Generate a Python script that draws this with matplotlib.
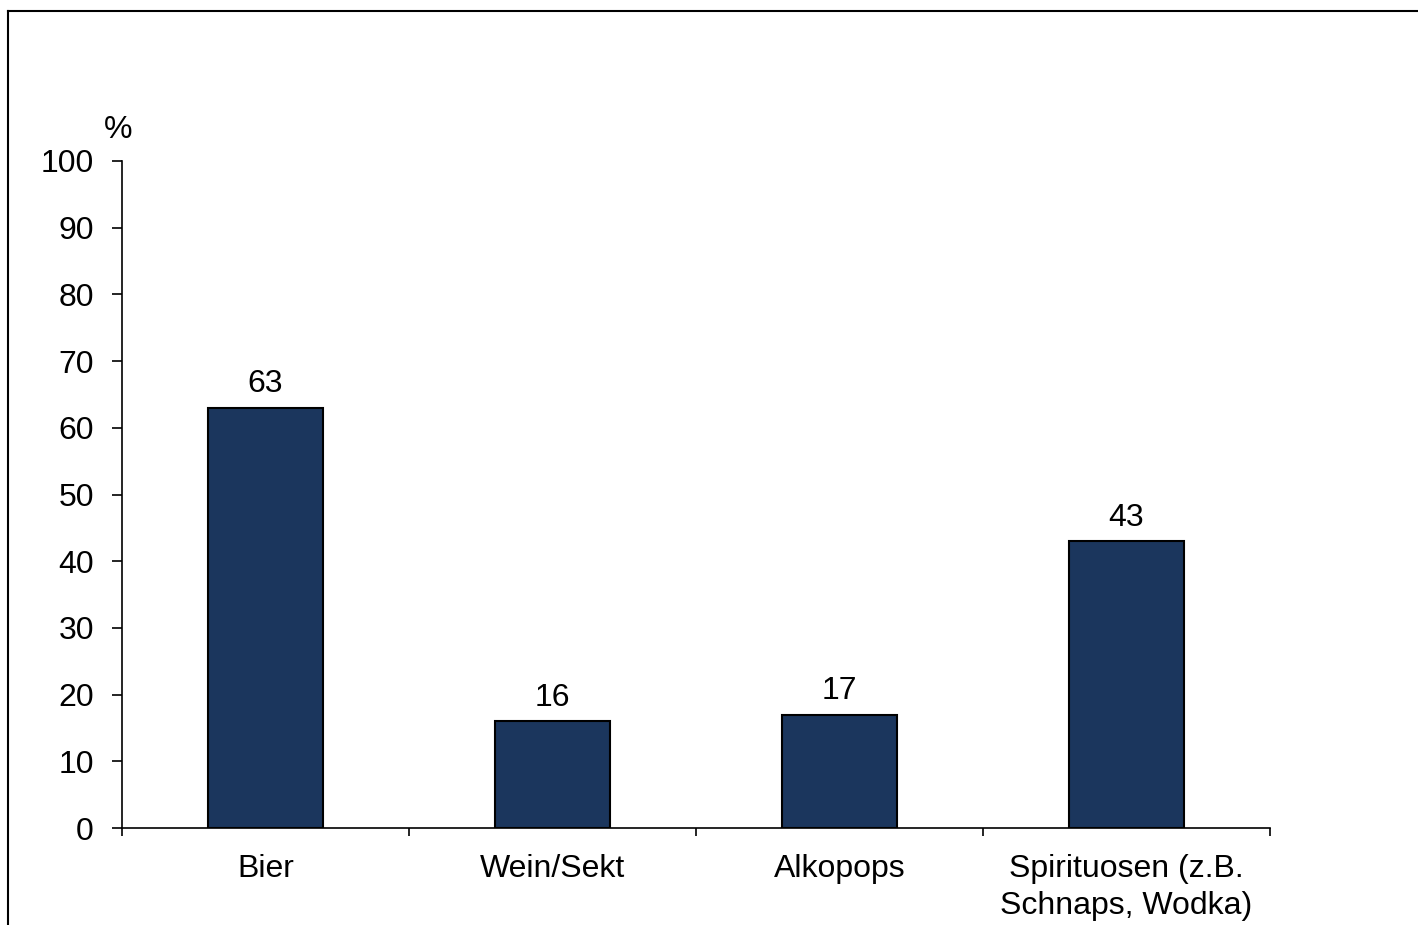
import matplotlib
matplotlib.use("Agg")
import matplotlib.pyplot as plt
from matplotlib.lines import Line2D

categories = ["Bier", "Wein/Sekt", "Alkopops", "Spirituosen (z.B.\nSchnaps, Wodka)"]
values = [63, 16, 17, 43]
yticks = [0, 10, 20, 30, 40, 50, 60, 70, 80, 90, 100]

plt.rcParams['font.family'] = ['Liberation Sans', 'DejaVu Sans']
FS = 23

W, H = 1418, 925
fig = plt.figure(figsize=(W/100, H/100), dpi=100)
ax = fig.add_axes([122/W, 1-828/H, (1270-122)/W, (828-161)/H])

x = list(range(len(categories)))
bars = ax.bar(x, values, width=0.4, color="#1b365d", edgecolor="black", linewidth=1.5, zorder=2)
for xi, v in zip(x, values):
    ax.annotate(f"{v}", (xi, v), xytext=(0, 6), textcoords="offset points",
                ha="center", va="bottom", fontsize=FS)

ax.set_xlim(-0.5, len(categories)-0.5)
ax.set_ylim(0, 100)
ax.set_yticks(yticks)
ax.set_yticklabels([str(t) for t in yticks], fontsize=FS)
ax.tick_params(axis='y', direction='out', length=7.2, width=1.2, pad=13)

ax.set_xticks([i-0.5 for i in range(len(categories)+1)])
ax.set_xticklabels([])
ax.set_xticks(x, minor=True)
ax.set_xticklabels(categories, minor=True, fontsize=FS, linespacing=1.3)
ax.tick_params(axis='x', which='major', direction='out', length=6, width=1.2)
ax.tick_params(axis='x', which='minor', length=0, pad=19)

for s in ['top', 'right']:
    ax.spines[s].set_visible(False)
for s in ['left', 'bottom']:
    ax.spines[s].set_linewidth(1.2)

ax.text(118/W, 1-130/H, "%", transform=fig.transFigure, ha="center", va="center", fontsize=FS)

fig.add_artist(Line2D([8/W, 8/W], [0, 1-11/H], color="black", linewidth=1.5, transform=fig.transFigure))
fig.add_artist(Line2D([8/W, 1], [1-11/H, 1-11/H], color="black", linewidth=1.5, transform=fig.transFigure))

fig.savefig("out.png", dpi=100, facecolor="white")
